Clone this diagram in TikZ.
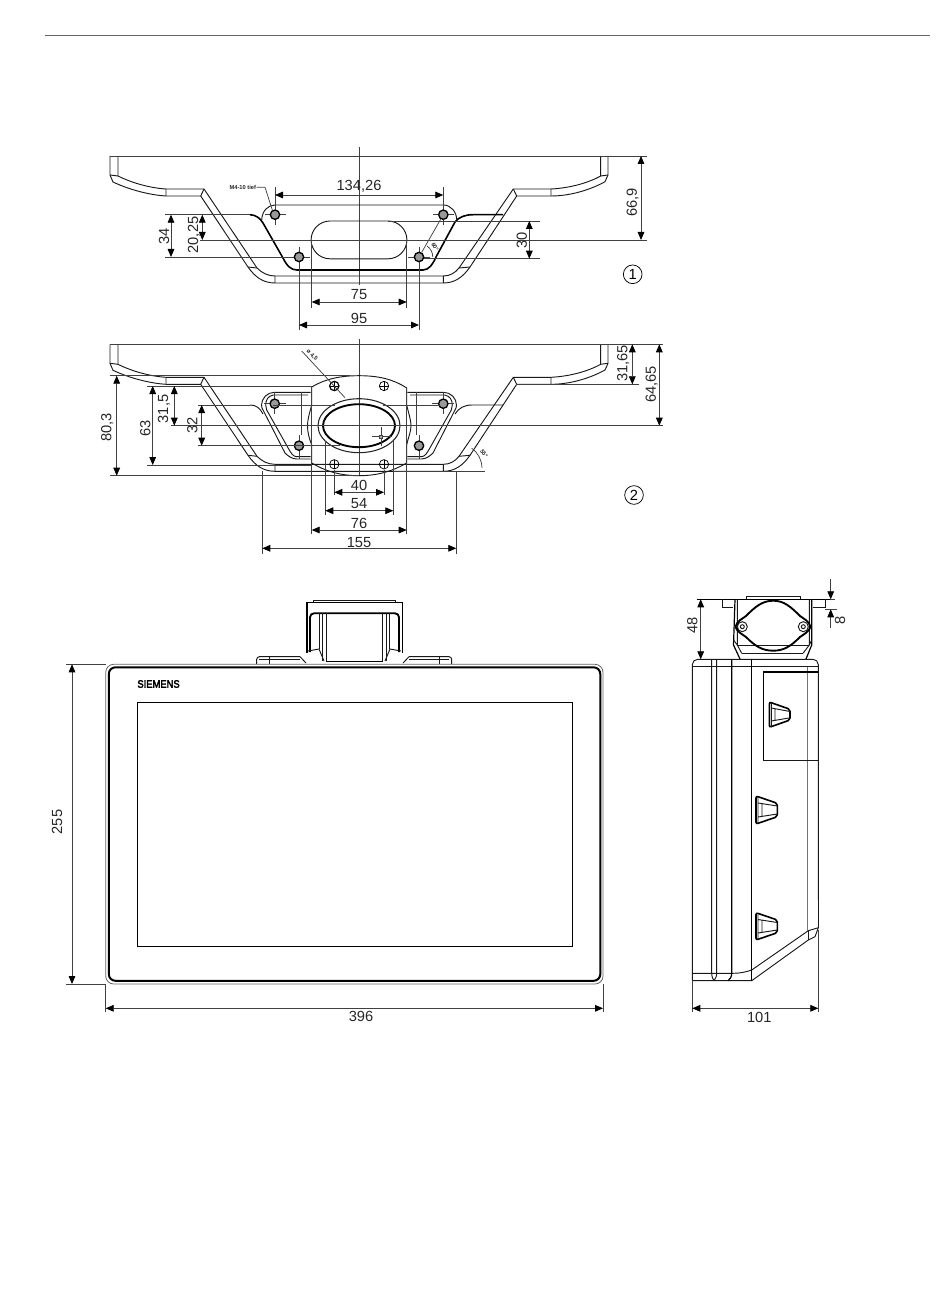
\documentclass[tikz,border=0pt]{standalone}
\usepackage{fontspec}
\setmainfont{Liberation Sans}
\newfontfamily\logofont[FakeBold=3.5]{Liberation Sans}
\usetikzlibrary{arrows.meta}

\tikzset{
  every picture/.style={line width=0.75pt},
  outline/.style={line width=0.7pt,color=black!90},
  heavy/.style={line width=1.2pt,color=black},
  extline/.style={line width=0.55pt,color=black!75},
  dimline/.style={line width=0.6pt,color=black!75,{Triangle[length=6pt,width=5pt,black]}-{Triangle[length=6pt,width=5pt,black]}},
  dimsingle/.style={line width=0.6pt,color=black!75,-{Triangle[length=6pt,width=5pt,black]}},
  dimtext/.style={font=\fontsize{11}{13}\selectfont,inner sep=0pt,text=black!85},
  tinytext/.style={font=\bfseries\fontsize{4.3}{5}\selectfont,inner sep=0pt,text=black!85},
  bighole/.style={circle,draw,line width=1pt,minimum size=7pt,inner sep=0pt,fill=black!40,
    path picture={\fill (path picture bounding box.center) circle (1.2pt);}},
  smallhole/.style={circle,draw,line width=0.55pt,minimum size=7pt,inner sep=0pt,
    path picture={\draw[line width=0.4pt] (path picture bounding box.north) -- (path picture bounding box.south)
      (path picture bounding box.west) -- (path picture bounding box.east);}},
  callout/.style={circle,draw,line width=0.55pt,minimum size=14pt,inner sep=0pt,font=\fontsize{11}{13}\selectfont},
}

% outer sheet profile of the wall bracket, used by both upper views
\newcommand{\bracketprofile}{
  \draw [outline] (110,156) -- (110,175) -- (113,182) .. controls (130,190) and (150,195) .. (166,196) -- (200.7,196) -- (248,267) .. controls (255,277) and (263,283) .. (275,283) -- (443.3,283) .. controls (455,283) and (463,277) .. (470,267) -- (516.7,196) -- (551,196) .. controls (570,196) and (590,190) .. (605,181.7) -- (608,175) -- (608,156) ;
  \draw [outline] (118,156) -- (118,176) .. controls (132,183) and (150,188) .. (166,189) -- (204,189) -- (257,268) .. controls (262,273) and (268,276) .. (275,276) -- (443.3,276) .. controls (450,276) and (455,273) .. (459,268) -- (513.3,189) -- (551,189) .. controls (570,188) and (588,183) .. (600.7,176) -- (600.7,156) ;
  \draw [outline] (110,175) -- (118,176) (600.7,176) -- (608,175) (200.7,196) -- (204,189) (513.3,189) -- (516.7,196) ;
  \draw [outline] (166,189) -- (166,196) (551,189) -- (551,196) (275,276) -- (275,283) (443.3,276) -- (443.3,283) (248,267) -- (257,268) (459,268) -- (470,267) ;
}

\begin{document}
\begin{tikzpicture}[x=0.75pt,y=0.75pt,yscale=-1,xscale=1]
  \useasboundingbox (0,0) rectangle (950,1301);

  %Page rule
  \draw [line width=0.5pt,color=black!60] (45,35) -- (930,35) ;

  %View 1: bracket
  \bracketprofile
  \draw [extline] (110,156) -- (647,156) ;
  \draw [extline] (359,147) -- (359,285) ;
  %inner bracket
  \draw [heavy] (250,214.7) .. controls (256,215) and (260,218) .. (263,223) -- (283,258) .. controls (287,266) and (291,270) .. (297,270) -- (423,270) .. controls (429,270) and (433,264) .. (436,257) -- (455,222) .. controls (459,217) and (465,214.7) .. (473,214.7) -- (503,214.7) ;
  %plate with the screw holes
  \draw [outline] (261.7,220) .. controls (262,211) and (268,205) .. (275,205) -- (443.3,205) .. controls (451,205) and (456.7,212) .. (456.7,220) ;
  \draw [outline] (330,221) -- (388,221) arc (-90:90:18.9) -- (330,258.8) arc (90:270:18.9) ;
  \draw [extline] (200,240) -- (647,240) ;
  \draw [extline] (165,214.7) -- (250,214.7) ;
  \draw [extline] (165,257) -- (290,257) ;
  \draw [extline] (388,221) -- (540,221) ;
  \draw [extline] (419,258.7) -- (540,258.7) ;
  \draw [extline] (311.7,240) -- (311.7,308) (406.7,240) -- (406.7,308) ;
  \draw [extline] (299,247) -- (299,330) (419,247) -- (419,330) ;
  \draw [extline] (275,187) -- (275,225) (265,214.7) -- (286,214.7) ;
  \draw [extline] (443.3,187) -- (443.3,225) (433,214.7) -- (454,214.7) ;
  \draw [extline] (289,257) -- (310,257) (408,257) -- (430,257) ;
  \node (holeA) [bighole] at (275,214.7) {};
  \node (holeB) [bighole] at (443.3,214.7) {};
  \node (holeC) [bighole] at (299,257) {};
  \node (holeD) [bighole] at (419,257) {};
  %angle between the holes
  \draw [extline] (holeD) -- (holeB) ;
  \draw [extline] (427,246) arc (-56:0:13) ;
  \node (angleA) [tinytext,rotate=-60] at (435,247) {60°};
  %leader of the thread
  \node (threadA) [tinytext,anchor=east] at (256.5,187.2) {M4-10 tief};
  \draw [extline] (threadA.east) -- (265,187.2) -- (272.3,210) ;
  %dimensions of view 1
  \draw [dimline] (275,195) -- (443.3,195) ;
  \draw [dimline] (311.7,302) -- (406.7,302) ;
  \draw [dimline] (299,325) -- (419,325) ;
  \draw [dimline] (171,214.7) -- (171,257) ;
  \draw [dimline] (202.3,214.7) -- (202.3,240) ;
  \draw [dimline] (529.3,221) -- (529.3,258.7) ;
  \draw [dimline] (641,156) -- (641,240) ;
  \node (dimHoles) [dimtext] at (359,186) {134,26};
  \node (dimSlot) [dimtext] at (359,295) {75};
  \node (dimLower) [dimtext] at (359,318) {95};
  \node (dimRowsA) [dimtext,rotate=90] at (164,236.7) {34};
  \node (dimRowB) [dimtext,rotate=90] at (194,235) {20,25};
  \node (dimSlotH) [dimtext,rotate=90] at (521.7,240) {30};
  \node (dimDepth) [dimtext,rotate=90] at (632.7,202.7) {66,9};
  \node (calloutA) [callout] at (632.7,274.3) {1};

  %View 2: bracket with adapter plate
  \begin{scope}[shift={(0,188.3)}]
    \bracketprofile
  \end{scope}
  \draw [extline] (110,344.3) -- (663,344.3) ;
  \draw [extline] (359,339) -- (359,475.7) ;
  %adapter plate
  \draw [outline] (311.7,387) .. controls (325,379) and (340,375.7) .. (359,375.7) .. controls (378,375.7) and (393,379) .. (406.7,388) -- (406.7,405) .. controls (409,415) and (411,420) .. (411,426) .. controls (411,432) and (408,438) .. (406.7,445) -- (406.7,463) .. controls (393,471) and (378,475.7) .. (359,475.7) .. controls (340,475.7) and (325,471) .. (311.7,463) -- (311.7,445) .. controls (309,438) and (307.5,432) .. (307.5,426) .. controls (307.5,420) and (309,415) .. (311.7,405) -- cycle ;
  \draw [line width=0.8pt,color=black!85] (359,425.7) ellipse (41 and 27) ;
  \draw [line width=1.4pt,color=black] (359,425.7) ellipse (36 and 21.5) ;
  \draw [extline] (371.7,436.7) -- (391.7,436.7) (381,427) -- (381,446) ;
  \draw [extline,fill=black!30] (379.5,435.2) rectangle (382.5,438.2) ;
  %left and right bracket
  \draw [outline] (310.7,392.3) -- (274.5,392.3) arc (270:180:13) -- (262,408) -- (285,453) .. controls (288,456) and (292,459) .. (296.7,459) -- (310.7,459) ;
  \draw [outline] (308,395) -- (273.3,395) .. controls (268,396) and (265.7,400) .. (265.7,405) -- (266.7,410) -- (288.3,448.3) .. controls (291,453) and (293,456.7) .. (296.7,456.7) -- (310.7,456.7) ;
  \draw [outline] (407.3,392.3) -- (443.5,392.3) arc (-90:0:13) -- (456,408) -- (433,453) .. controls (430,456) and (426,459) .. (421.3,459) -- (407.3,459) ;
  \draw [outline] (410,395) -- (444.7,395) .. controls (450,396) and (452.3,400) .. (452.3,405) -- (451.3,410) -- (429.7,448.3) .. controls (427,453) and (425,456.7) .. (421.3,456.7) -- (407.3,456.7) ;
  \draw [outline] (250,405) .. controls (256,405) and (260,408) .. (263,414) ;
  \draw [outline] (455,414) .. controls (459,408) and (464,405) .. (472,405) -- (503.3,405) ;
  \draw [extline] (301.7,392.3) -- (301.7,435) (416.3,392.3) -- (416.3,435) ;
  \draw [extline] (299,435) -- (299,459) (419,435) -- (419,459) ;
  \draw [extline] (274.7,392) -- (274.7,414) (264,403.7) -- (286,403.7) ;
  \draw [extline] (443.3,392) -- (443.3,414) (432,403.7) -- (454,403.7) ;
  \node (holeE) [bighole] at (274.7,403.7) {};
  \node (holeF) [bighole] at (443.3,403.7) {};
  \node (holeG) [bighole] at (299,445.7) {};
  \node (holeH) [bighole] at (419,445.7) {};
  \node (holeI) [smallhole,line width=0.9pt] at (334.3,386) {};
  \node (holeJ) [smallhole] at (384,386) {};
  \node (holeK) [smallhole] at (334.3,464.3) {};
  \node (holeL) [smallhole] at (384,464.3) {};
  %leader of the bore
  \draw [extline] (301.7,351) -- (345,397.7) ;
  \node (boreA) [tinytext,rotate=-45] at (312,355) {ø 4,5};
  %extension lines of view 2
  \draw [extline] (110,375.7) -- (350,375.7) ;
  \draw [extline] (147,386) -- (311.7,386) ;
  \draw [extline] (516,384.3) -- (639,384.3) ;
  \draw [extline] (198,405) -- (250,405) (273,405) -- (335,405) (383,405) -- (440,405) ;
  \draw [extline] (170.7,425.7) -- (663,425.7) ;
  \draw [extline] (198,445.7) -- (340,445.7) ;
  \draw [extline] (147,465) -- (311.7,465) ;
  \draw [extline] (110,475.7) -- (359,475.7) ;
  \draw [extline] (393,471) -- (485,471) ;
  \draw [extline] (334.3,470) -- (334.3,495) (384,470) -- (384,495) ;
  \draw [extline] (325.3,441) -- (325.3,515) (393.3,441) -- (393.3,515) ;
  \draw [extline] (311.7,387) -- (311.7,534) (406.7,387) -- (406.7,534) ;
  \draw [extline] (262.3,471) -- (262.3,554) (456.3,471) -- (456.3,554) ;
  %chamfer angle
  \draw [extline] (471.7,448.3) arc (-55:0:24) ;
  \node (angleB) [tinytext,rotate=-55] at (484,453.5) {55°};
  %dimensions of view 2
  \draw [dimline] (334.3,492.3) -- (384,492.3) ;
  \draw [dimline] (325.3,510.7) -- (393.3,510.7) ;
  \draw [dimline] (311.7,530) -- (406.7,530) ;
  \draw [dimline] (262.3,548.3) -- (456.3,548.3) ;
  \draw [dimline] (116.7,375.7) -- (116.7,475.7) ;
  \draw [dimline] (152.7,386) -- (152.7,465) ;
  \draw [dimline] (174.3,386) -- (174.3,425.7) ;
  \draw [dimline] (201.7,405) -- (201.7,445.7) ;
  \draw [dimline] (632.3,344.3) -- (632.3,384.3) ;
  \draw [dimline] (659.3,344.3) -- (659.3,425.7) ;
  \node (dimInner) [dimtext] at (359,485) {40};
  \node (dimOval) [dimtext] at (359,504) {54};
  \node (dimPlate) [dimtext] at (359,523) {76};
  \node (dimFoot) [dimtext] at (359,543) {155};
  \node (dimTotal) [dimtext,rotate=90] at (107.3,427.7) {80,3};
  \node (dimFootH) [dimtext,rotate=90] at (145.3,428.3) {63};
  \node (dimUpper) [dimtext,rotate=90] at (164,409) {31,5};
  \node (dimRows) [dimtext,rotate=90] at (192.3,425) {32};
  \node (dimTopA) [dimtext,rotate=90] at (623.3,363.3) {31,65};
  \node (dimTopB) [dimtext,rotate=90] at (651.7,384.3) {64,65};
  \node (calloutB) [callout] at (634,495) {2};

  %Front view: mount on the panel
  \draw [outline] (313.3,602.3) -- (313.3,600) -- (395,600) -- (395,602.3) ;
  \draw [heavy] (306.7,653) -- (306.7,602.3) -- (402.3,602.3) -- (402.3,653) ;
  \draw [heavy,line width=1.4pt,rounded corners=3pt] (310,652) -- (310,613.3) -- (399,613.3) -- (399,652) ;
  \draw [outline] (319,613.3) -- (319,649) (322.3,613.3) -- (322.3,661) (326.3,613.3) -- (326.3,661.7) ;
  \draw [outline] (382.3,613.3) -- (382.3,661.7) (386,613.3) -- (386,661) (389.3,613.3) -- (389.3,649) ;
  \draw [heavy,line width=0.8pt] (326,661.7) -- (383,661.7) ;
  \draw [outline] (308,651) -- (319,649) -- (324,661) (306,663) -- (300,656.7) ;
  \draw [outline] (401,651) -- (390,649) -- (385,661) (403,663) -- (409,656.7) ;
  \draw [outline,rounded corners=2pt] (300,656.7) -- (256.7,656.7) -- (256.7,664) ;
  \draw [outline,rounded corners=2pt] (409,656.7) -- (451.7,656.7) -- (451.7,664) ;
  \draw [outline] (269.3,656.7) -- (269.3,664) (439.3,656.7) -- (439.3,664) ;
  \draw [outline] (259,659) -- (300,659) (409,659) -- (449,659) ;

  %Front view: panel
  \draw [line width=0.6pt,color=black!60,rounded corners=6pt] (105.7,664.3) rectangle (603,984) ;
  \draw [line width=1.5pt,rounded corners=5pt] (108.8,667.3) rectangle (600.3,980.8) ;
  \draw [line width=0.7pt] (137.3,702) rectangle (572,946) ;
  \node (logo) [font=\logofont\fontsize{8}{9}\selectfont,inner sep=0pt,anchor=west,xscale=0.88] at (137,684) {SIEMENS};
  \draw [extline] (66,664.3) -- (106,664.3) (66,984) -- (106,984) ;
  \draw [extline] (105.7,984) -- (105.7,1012) (603,984) -- (603,1012) ;
  \draw [dimline] (72,664.3) -- (72,984) ;
  \draw [dimline] (105.7,1008.3) -- (603,1008.3) ;
  \node (dimHeight) [dimtext,rotate=90] at (57,822) {255};
  \node (dimWidth) [dimtext] at (361,1016) {396};

  %Side view: body
  \draw [outline,rounded corners=4pt] (692.3,980.7) -- (692.3,659.3) -- (818.3,659.3) -- (818.3,900) ;
  \draw [outline] (818.3,670) -- (818.3,927.7) ;
  \draw [outline] (692.3,666.7) -- (818.3,666.7) ;
  \draw [outline] (692.3,980.7) -- (751.7,980.7) -- (808.3,940) -- (815,936.7) -- (818.3,927.7) -- (808.3,930.7) -- (751.7,970) .. controls (746,972) and (740,973.3) .. (733,973.3) -- (692.3,973.3) ;
  \draw [outline] (808.3,930.7) -- (808.3,940) ;
  \draw [outline] (711.7,659.3) -- (711.7,973.3) .. controls (711.7,977) and (713,979) .. (714,980.7) ;
  \draw [outline] (716.7,659.3) -- (716.7,973.3) .. controls (716.7,977) and (715,979) .. (714,980.7) ;
  \draw [heavy,line width=0.9pt] (731.7,659.3) -- (731.7,973.3) .. controls (731.7,977) and (730,979) .. (728,980.7) ;
  \draw [heavy,line width=0.9pt] (751.7,659.3) -- (751.7,980.7) ;
  \draw [line width=0.8pt,color=black!55] (807.7,666.7) -- (807.7,931) ;
  \draw [heavy] (763.3,760) -- (763.3,671.7) -- (818.3,671.7) ;
  \draw [outline] (763.3,760) -- (818.3,760) ;
  %handles
  \draw [heavy,rounded corners=1.5pt] (769.3,702) -- (790,709.3) -- (790,720) -- (769.3,727.3) -- cycle ;
  \draw [outline] (771.3,708) -- (790,711.5) (771.3,721) -- (790,717.8) (771.3,702.5) -- (771.3,727) (775,709) -- (775,720) ;
  \draw [heavy,rounded corners=1.5pt] (756,796) -- (777.3,803.3) -- (777.3,816.7) -- (756,824) -- cycle ;
  \draw [outline] (758,803) -- (777.3,806) (758,817) -- (777.3,814) (758,796.5) -- (758,823.5) (762,804) -- (762,816) ;
  \draw [heavy,rounded corners=1.5pt] (756,912.7) -- (777.3,920) -- (777.3,932.7) -- (756,940) -- cycle ;
  \draw [outline] (758,919.5) -- (777.3,922.5) (758,933) -- (777.3,930) (758,913) -- (758,939.5) (762,920.5) -- (762,932) ;

  %Side view: mount
  \draw [heavy,line width=0.8pt] (696.7,599.3) -- (833,599.3) ;
  \draw [outline] (746.7,599.3) -- (746.7,596.7) -- (800,596.7) -- (800,599.3) ;
  \draw [outline] (722.3,599.3) -- (722.3,607.7) -- (733.3,607.7) ;
  \draw [outline] (825,599.3) -- (825,607.7) -- (812.7,607.7) ;
  \draw [heavy,line width=0.9pt] (735,599.3) -- (733.5,645) -- (740,659) ;
  \draw [outline] (737.3,599.3) -- (737.3,645) -- (741.7,653.3) ;
  \draw [heavy,line width=0.9pt] (811.7,599.3) -- (811.7,645) -- (806,659) ;
  \draw [outline] (809.3,599.3) -- (809.3,645) -- (803,653.3) ;
  \draw [outline] (737.3,645) -- (809.3,645) (741.7,653.3) -- (803,653.3) ;
  \draw [outline] (733.5,640) -- (737.3,645) (811.7,640) -- (809.3,645) ;
  \draw [heavy,line width=1.4pt] (773.3,600.7) .. controls (762,600.7) and (755,607) .. (746,616) .. controls (742,619) and (737,621) .. (735.5,626.7) .. controls (737,632) and (742,634) .. (746,637) .. controls (755,646) and (762,650.7) .. (773.3,650.7) .. controls (784,650.7) and (791,646) .. (800,637) .. controls (804,634) and (809,632) .. (810.5,626.7) .. controls (809,621) and (804,619) .. (800,616) .. controls (791,607) and (784,600.7) .. (773.3,600.7) -- cycle ;
  \draw [outline] (742.3,626.7) circle (5) (803.3,626.7) circle (5) ;
  \draw [outline] (742.3,626.7) circle (2) (803.3,626.7) circle (2) ;
  %dimensions of the side view
  \draw [extline] (692.3,980.7) -- (692.3,1012) (818.3,930) -- (818.3,1012) ;
  \draw [dimline] (700.7,599.3) -- (700.7,659.3) ;
  \draw [dimline] (692.3,1008.3) -- (818.3,1008.3) ;
  \draw [extline] (825,609.3) -- (837,609.3) (830,599.3) -- (835,599.3) ;
  \draw [dimsingle] (830.7,579) -- (830.7,599.3) ;
  \draw [dimsingle] (830.7,628.3) -- (830.7,609.3) ;
  \node (dimMount) [dimtext,rotate=90] at (692.3,625) {48};
  \node (dimDepthB) [dimtext] at (759.3,1017) {101};
  \node (dimFlange) [dimtext,rotate=90] at (840,620.7) {8};
\end{tikzpicture}
\end{document}
